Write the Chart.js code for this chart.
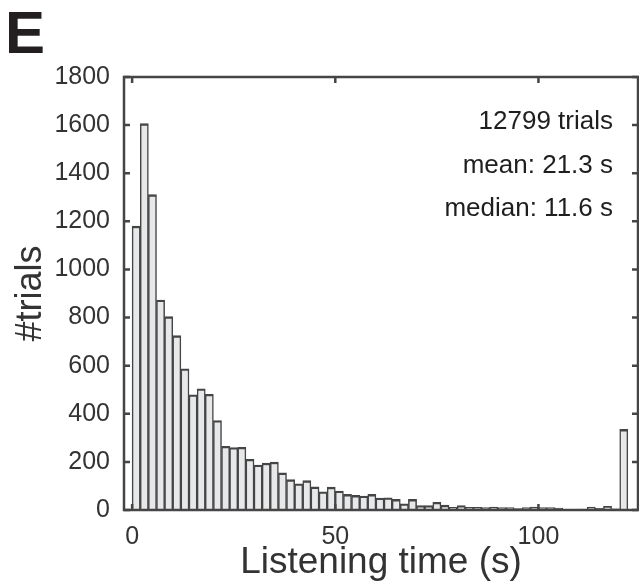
<!DOCTYPE html>
<html>
<head>
<meta charset="utf-8">
<script src="https://cdn.jsdelivr.net/npm/chart.js@4.4.1/dist/chart.umd.min.js"></script>
<style>
  html, body { margin: 0; padding: 0; background: #fff; }
</style>
</head>
<body>
<canvas id="histChart" width="639" height="588"></canvas>
<script>
// histogram of listening time, 2 s bins starting at 0
const binStart = 0
const binWidth = 2
const counts = [
  1180, 1606, 1311, 873, 804, 725, 587, 479, 504, 481,
  372, 265, 260, 261, 211, 187, 195, 199, 154, 126,
  109, 122, 96, 76, 95, 79, 65, 61, 58, 65,
  50, 51, 44, 26, 44, 18, 18, 32, 20, 11,
  18, 11, 11, 10, 12, 10, 10, 6, 10, 12,
  10, 10, 8, 3, 3, 4, 12, 7, 15, 5,
  335
]
const xTicks = [0, 50, 100]
const yTicks = [0, 200, 400, 600, 800, 1000, 1200, 1400, 1600, 1800]
const infoLines = ['12799 trials', 'mean: 21.3 s', 'median: 11.6 s']
const panelLetter = 'E'

// bins -> {x: bin center, y: count}
const points = counts.map((c, i) => ({ x: binStart + binWidth * i + binWidth / 2, y: c }))

const AXIS_COLOR = '#454545'
const FONT = "'Liberation Sans', Arial, Helvetica, sans-serif"

Chart.defaults.font.family = FONT

// box around the plot, inward ticks, the text block and the panel letter
const frame = {
  id: 'frame',
  afterDraw(chart) {
    const { ctx, chartArea: a, scales } = chart
    const x = scales.x, y = scales.y
    ctx.save()
    ctx.strokeStyle = AXIS_COLOR
    ctx.lineWidth = 2.5
    ctx.strokeRect(a.left, a.top, a.right - a.left, a.bottom - a.top)
    ctx.beginPath()
    yTicks.forEach(v => {
      const py = y.getPixelForValue(v)
      ctx.moveTo(a.left, py); ctx.lineTo(a.left + 6, py)
      ctx.moveTo(a.right, py); ctx.lineTo(a.right - 6, py)
    })
    xTicks.forEach(v => {
      const px = x.getPixelForValue(v)
      ctx.moveTo(px, a.bottom); ctx.lineTo(px, a.bottom - 6)
      ctx.moveTo(px, a.top); ctx.lineTo(px, a.top + 6)
    })
    ctx.stroke()

    ctx.fillStyle = '#1e1e1e'
    ctx.font = '26px ' + FONT
    ctx.textAlign = 'right'
    ctx.textBaseline = 'alphabetic'
    infoLines.forEach((t, i) => {
      ctx.fillText(t, a.right - 25, a.top + 52 + i * 43.5)
    })

    ctx.fillStyle = '#231f20'
    ctx.font = 'bold 60px ' + FONT
    ctx.textAlign = 'left'
    ctx.fillText(panelLetter, 5, 53)
    ctx.restore()
  }
}

new Chart(document.getElementById('histChart'), {
  type: 'bar',
  data: {
    datasets: [{
      data: points,
      backgroundColor: '#e7e8ea',
      borderColor: AXIS_COLOR,
      borderWidth: { top: 2.4, left: 1.5, right: 1.5, bottom: 0 },
      borderSkipped: 'start',
      barPercentage: 1,
      categoryPercentage: 1
    }]
  },
  options: {
    responsive: false,
    animation: false,
    layout: { padding: { top: 77, right: 1, left: 0, bottom: 0 } },
    plugins: { legend: { display: false }, tooltip: { enabled: false } },
    scales: {
      x: {
        type: 'linear',
        min: -2,
        max: 124.5,
        offset: false,
        grid: { display: false, drawTicks: false },
        border: { display: false },
        afterBuildTicks: s => { s.ticks = xTicks.map(v => ({ value: v })) },
        afterFit: s => { s.height = 78 },
        ticks: { color: '#333', font: { size: 25 }, padding: 12, maxRotation: 0, callback: v => String(v) },
        title: {
          display: true,
          text: 'Listening time (s)',
          color: '#333',
          font: { size: 37, lineHeight: 1 },
          padding: { top: 0, bottom: 7 }
        }
      },
      y: {
        min: 0,
        max: 1800,
        grid: { display: false, drawTicks: false },
        border: { display: false },
        afterBuildTicks: s => { s.ticks = yTicks.map(v => ({ value: v })) },
        afterFit: s => { s.width = 124 },
        ticks: { color: '#333', font: { size: 25 }, padding: 14, callback: v => String(v) },
        title: {
          display: true,
          text: '#trials',
          color: '#333',
          font: { size: 36, lineHeight: 1 },
          padding: { top: 13, bottom: 0 }
        }
      }
    }
  },
  plugins: [frame]
})
</script>
</body>
</html>
